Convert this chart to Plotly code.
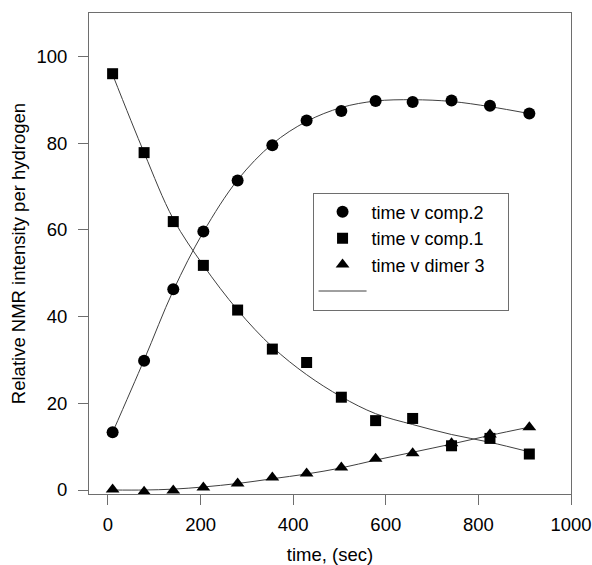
import plotly.graph_objects as go

# data
time_s = [10, 78, 141, 206, 280, 355, 429, 504, 578, 658, 742, 825, 910]
comp2 = [13.3, 29.8, 46.3, 59.6, 71.4, 79.5, 85.2, 87.4, 89.7, 89.5, 89.8, 88.6, 86.8]
comp1 = [96.0, 77.8, 61.9, 51.8, 41.5, 32.5, 29.4, 21.4, 16.0, 16.5, 10.2, 11.9, 8.3]
dimer3 = [0.1, -0.4, -0.1, 0.6, 1.5, 2.9, 3.8, 5.2, 7.2, 8.5, 10.8, 12.8, 14.5]

# fitted curves
fit_time = [10, 78, 141, 206, 280, 355, 429, 504, 578, 658, 742, 825, 910]
fit_comp2 = [13.3, 30.0, 46.0, 59.5, 71.5, 79.8, 85.0, 88.2, 89.7, 90.0, 89.6, 88.4, 86.8]
fit_comp1 = [95.8, 77.8, 62.5, 51.8, 41.5, 33.0, 26.6, 21.5, 17.6, 15.1, 12.8, 11.0, 8.8]
fit_dimer3 = [0.0, 0.0, 0.2, 0.7, 1.5, 2.6, 3.7, 5.1, 6.9, 8.7, 10.6, 12.6, 14.5]

series_names = ["time v comp.2", "time v comp.1", "time v dimer 3"]
fit_legend_name = "\u00a0" * 26  # the fit-line entry has no visible label
x_ticks = [0, 200, 400, 600, 800, 1000]
y_ticks = [0, 20, 40, 60, 80, 100]

FONT = "Liberation Sans, Arial, sans-serif"
FRAME = "#6e6e6e"
LINE = "#404040"

fig = go.Figure()

for fy in (fit_comp2, fit_comp1, fit_dimer3):
    fig.add_trace(go.Scatter(
        x=fit_time, y=fy, mode="lines", line=dict(color=LINE, width=1, shape="spline"),
        showlegend=False, hoverinfo="skip"))

fig.add_trace(go.Scatter(x=time_s, y=comp2, mode="markers", name=series_names[0],
                         marker=dict(symbol="circle", size=12, color="black")))
fig.add_trace(go.Scatter(x=time_s, y=comp1, mode="markers", name=series_names[1],
                         marker=dict(symbol="square", size=11, color="black")))
fig.add_trace(go.Scatter(x=time_s, y=dimer3, mode="markers", name=series_names[2],
                         marker=dict(symbol="triangle-up", size=12, color="black")))
# legend entry for the fitted lines
fig.add_trace(go.Scatter(x=[None], y=[None], mode="lines", name=fit_legend_name,
                         line=dict(color=LINE, width=1)))

fig.update_layout(
    width=592, height=565,
    margin=dict(l=89, r=21, t=13, b=71, autoexpand=False),
    paper_bgcolor="white", plot_bgcolor="white",
    font=dict(family=FONT, size=18.5, color="black"),
    showlegend=True,
    legend=dict(x=0.4638, y=0.6266, xanchor="left", yanchor="top",
                bordercolor=FRAME, borderwidth=1, bgcolor="white",
                font=dict(family=FONT, size=18, color="black"),
                itemwidth=48, tracegroupgap=0),
)

fig.update_xaxes(
    range=[-41, 1000], tickvals=x_ticks, ticktext=[str(v) for v in x_ticks],
    ticks="outside", ticklen=10, tickcolor=FRAME, tickwidth=1,
    showline=True, linecolor=FRAME, linewidth=1, mirror=True,
    showgrid=False, zeroline=False, automargin=False, ticklabelstandoff=4,
    title=dict(text="time, (sec)", font=dict(family=FONT, size=18.5), standoff=18),
)
fig.update_yaxes(
    range=[-0.92, 110], tickvals=y_ticks, ticktext=[str(v) for v in y_ticks],
    ticks="outside", ticklen=10, tickcolor=FRAME, tickwidth=1,
    showline=True, linecolor=FRAME, linewidth=1, mirror=True,
    showgrid=False, zeroline=False, ticklabelstandoff=7, automargin=False,
    title=dict(text="Relative NMR intensity per hydrogen", font=dict(family=FONT, size=18.5), standoff=5),
)

fig.write_html(
    "out.html",
    config={"displayModeBar": False},
    post_script="document.body.style.margin='0';document.body.style.overflow='hidden';",
)
